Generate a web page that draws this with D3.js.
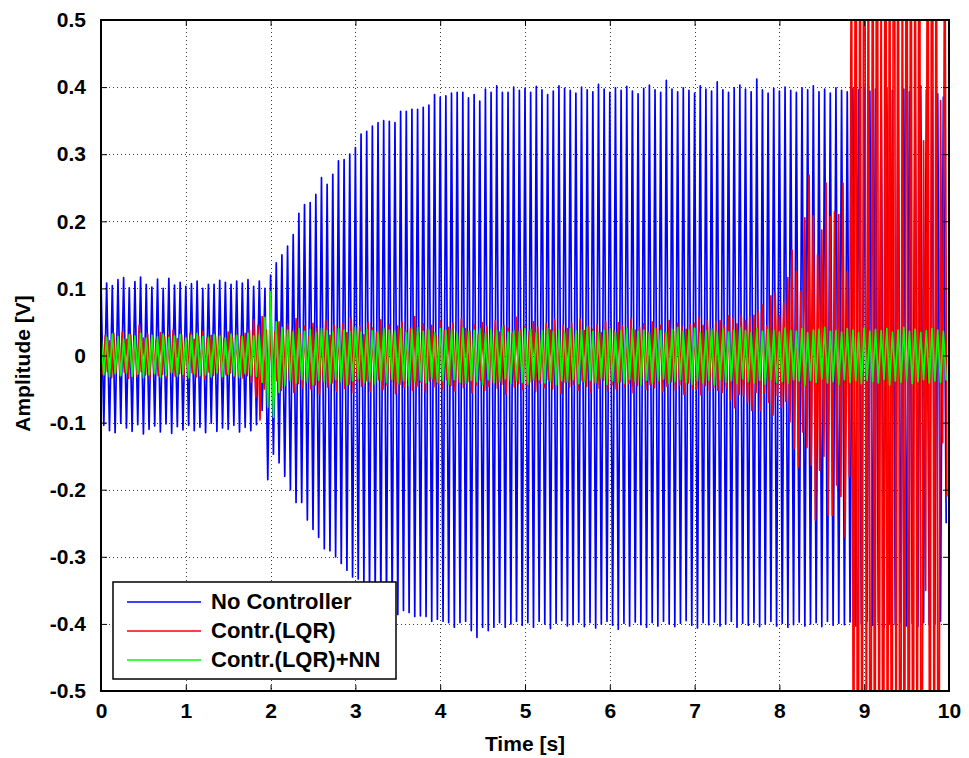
<!DOCTYPE html>
<html>
<head>
<meta charset="utf-8">
<script src="https://cdn.jsdelivr.net/npm/d3@7"></script>
<style>
  body { margin: 0; background: #fff; }
  svg text { font-family: "Liberation Sans", Arial, sans-serif; font-weight: bold; fill: #000; }
</style>
</head>
<body>
<svg id="chart" width="969" height="758"></svg>
<script>
// Axis ticks
const xTicks = [0, 1, 2, 3, 4, 5, 6, 7, 8, 9, 10];
const yTicks = [-0.5, -0.4, -0.3, -0.2, -0.1, 0, 0.1, 0.2, 0.3, 0.4, 0.5];
const yTickLabels = ["-0.5", "-0.4", "-0.3", "-0.2", "-0.1", "0", "0.1", "0.2", "0.3", "0.4", "0.5"];

// Series names
const seriesNames = ["No Controller", "Contr.(LQR)", "Contr.(LQR)+NN"];

// Oscillation periods [s] of the recorded responses
const periodOpenLoop = 10 / 150;   // uncontrolled and LQR+NN responses
const periodLqr = 0.05;            // LQR response

// Peak values per cycle [mV]: positive peak, then negative peak
const blueHighMv = [
  112,108,104,113,116,101,110,117,106,102,114,100,115,105,109,103,107,111,100,106,
  106,112,109,106,111,108,113,103,111,100,
  120,138,150,163,180,212,225,228,240,265,255,270,290,292,300,310,330,334,342,347,
  350,349,347,364,364,367,367,370,373,389,385,387,391,392,392,384,389,379,397,392,
  402,392,392,400,
  395,398,392,401,396,389,394,402,398,395,391,400,396,393,404,397,392,399,395,401,
  394,390,398,403,396,392,410,397,393,399,395,391,402,397,394,408,396,392,399,403,
  397,393,412,396,391,398,394,400,395,392,399,396,402,393,397,391,399,395,393,398,
  396,400,394,397,392,399,395,401,397,393,398,402,396,394,390,385
];
const blueLowMv = [
  -104,-112,-115,-101,-108,-113,-103,-117,-110,-105,-114,-102,-116,-106,-111,-104,-112,-107,-115,-101,
  -113,-108,-110,-104,-114,-107,-112,-103,-82,-185,
  -147,-160,-180,-200,-219,-219,-245,-259,-271,-288,-291,-300,-310,-320,-330,-333,-344,-357,-356,-367,
  -373,-376,-386,-380,-383,-389,-388,-389,-396,-393,-396,-398,-405,-398,-396,-410,-420,-405,-410,-405,
  -398,-405,-400,-396,
  -402,-398,-405,-396,-400,-407,-399,-395,-403,-401,-397,-404,-398,-406,-400,-396,-402,-408,-399,-403,
  -397,-401,-405,-398,-403,-396,-400,-404,-399,-395,-402,-406,-398,-401,-397,-403,-400,-396,-405,-399,
  -402,-398,-404,-400,-396,-403,-399,-405,-401,-397,-403,-400,-398,-404,-396,-402,-399,-401,-397,-403,
  -400,-396,-402,-398,-405,-399,-401,-397,-403,-399,-404,-398,-401,-400,-396,-250
];

const redHighMv = [
  25,30,22,33,28,35,24,31,27,45,26,32,29,23,34,28,30,38,25,31,
  27,33,24,29,36,26,30,28,32,25,35,27,31,29,33,38,
  53,45,58,38,
  42,35,50,31,46,38,55,33,44,29,48,40,36,52,30,45,39,47,34,56,
  37,43,31,49,41,35,53,38,46,32,44,50,36,40,58,33,47,39,45,30,
  51,37,42,48,34,55,40,36,46,31,49,43,38,52,35,45,41,33,57,39,
  44,36,50,42,30,47,38,53,35,45,40,48,32,54,37,43,39,46,34,51,
  41,36,49,44,31,55,38,42,47,35,50,40,45,33,52,37,48,43,39,46,
  48,56,45,52,38,50,52,44,59,55,47,60,52,58,
  60,65,75,44,89,93,60,78,116,157,125,95,205,269,208,150,187,257,207,214,
  210,257,125,
  700,1200,950,1400,800,1100,1300,650,1250,900,1500,1000,750,1350,1150,850,1200,320,1000,1400,
  900,380,700
];
const redLowMv = [
  -28,-24,-33,-26,-30,-25,-34,-27,-31,-24,-29,-35,-26,-30,-28,-33,-25,-31,-27,-34,
  -29,-26,-32,-28,-35,-25,-30,-27,-33,-29,-26,-31,-28,-34,-30,-40,
  -62,-96,-50,-45,
  -45,-38,-52,-40,-36,-55,-42,-48,-35,-50,-44,-58,-39,-47,-41,-53,-37,-49,-43,-56,
  -40,-46,-38,-54,-42,-36,-51,-45,-39,-57,-43,-48,-37,-52,-46,-40,-55,-38,-47,-42,
  -50,-36,-45,-53,-41,-48,-39,-56,-44,-37,-52,-46,-40,-49,-43,-58,-38,-47,-42,-51,
  -45,-39,-54,-41,-48,-36,-50,-44,-57,-40,-47,-43,-52,-38,-46,-55,-41,-49,-37,-53,
  -44,-50,-39,-47,-42,-56,-45,-38,-51,-43,-48,-40,-54,-46,-39,-52,-44,-58,-41,-50,
  -50,-59,-45,-53,-48,-52,-55,-47,-66,-78,-58,-60,-70,-82,
  -55,-82,-55,-70,-89,-60,-77,-68,-99,-138,-166,-114,-137,-163,-245,-171,-150,-238,-238,-193,
  -210,-270,-180,
  -900,-1300,-1000,-700,-1400,-1100,-850,-1250,-950,-1200,-750,-1350,-1000,-1300,-1150,-800,-1250,-350,-1100,-900,
  -1200,-130,-210
];

const greenHighMv = [
  30,27,32,28,25,31,29,33,26,30,28,32,27,29,31,26,30,33,28,27,
  31,29,26,32,30,28,33,29,31,57,
  95,50,42,38,35,40,36,39,34,41,37,35,40,38,36,42,35,39,37,34,
  41,38,36,40,35,39,42,36,38,34,40,37,39,35,41,36,38,40,34,39,
  37,42,35,38,36,40,39,34,37,41,36,38,35,40,37,39,42,36,34,38,
  40,35,37,41,39,36,38,34,40,37,35,39,42,36,38,41,34,37,40,36,
  39,35,38,42,37,34,40,36,39,38,35,41,37,36,40,34,38,39,42,36,
  37,35,40,38,34,41,36,39,37,40,35,38,42,36,39,34,37,40,38,36
];
const greenLowMv = [
  -29,-32,-27,-30,-26,-31,-28,-33,-29,-27,-32,-30,-26,-31,-28,-33,-27,-30,-29,-32,
  -26,-31,-28,-30,-33,-27,-29,-31,-40,-77,
  -92,-55,-45,-38,-41,-36,-40,-43,-37,-39,-42,-36,-40,-44,-38,-35,-41,-39,-43,-37,
  -40,-36,-42,-38,-45,-39,-37,-41,-35,-40,-38,-43,-36,-40,-42,-37,-39,-44,-36,-41,
  -39,-35,-42,-38,-40,-43,-37,-36,-41,-39,-44,-38,-40,-36,-42,-39,-37,-41,-35,-43,
  -38,-40,-42,-36,-39,-44,-37,-41,-38,-35,-42,-39,-36,-40,-43,-38,-41,-37,-44,-36,
  -40,-38,-42,-35,-39,-41,-37,-43,-36,-40,-39,-42,-36,-38,-44,-37,-40,-35,-41,-39,
  -43,-36,-40,-38,-42,-37,-39,-41,-36,-44,-38,-40,-37,-42,-39,-36,-41,-38,-40,-37
];

const seriesColors = ["#0000ff", "#ff0000", "#00ff00"];

// Layout
const plot = { left: 101, right: 949, top: 20, bottom: 691 };

const svg = d3.select("#chart");
const x = d3.scaleLinear().domain([0, 10]).range([plot.left, plot.right]);
const y = d3.scaleLinear().domain([-0.5, 0.5]).range([plot.bottom, plot.top]);

// Turn per-cycle peaks into a zig-zag trace (peak at cycle start, trough half a period later)
function trace(high, low, period) {
  const pts = [];
  const n = Math.min(high.length, low.length);
  for (let i = 0; i < n; i++) {
    pts.push([i * period, high[i] / 1000]);
    pts.push([(i + 0.5) * period, low[i] / 1000]);
  }
  return pts;
}

const series = [
  trace(blueHighMv, blueLowMv, periodOpenLoop),
  trace(redHighMv, redLowMv, periodLqr),
  trace(greenHighMv, greenLowMv, periodOpenLoop)
];

// Grid (dotted)
const grid = svg.append("g").attr("stroke", "#000").attr("stroke-width", 1)
  .attr("stroke-dasharray", "1,3").attr("opacity", 0.75);
grid.selectAll(".gx").data(xTicks.slice(1, -1)).join("line")
  .attr("x1", d => Math.round(x(d)) + 0.5).attr("x2", d => Math.round(x(d)) + 0.5)
  .attr("y1", plot.top).attr("y2", plot.bottom);
grid.selectAll(".gy").data(yTicks.slice(1, -1)).join("line")
  .attr("y1", d => Math.round(y(d)) + 0.5).attr("y2", d => Math.round(y(d)) + 0.5)
  .attr("x1", plot.left).attr("x2", plot.right);

// Data traces, clipped to the axes box
svg.append("clipPath").attr("id", "clip").append("rect")
  .attr("x", plot.left).attr("y", plot.top)
  .attr("width", plot.right - plot.left).attr("height", plot.bottom - plot.top);

const line = d3.line().x(d => x(d[0])).y(d => y(d[1]));
svg.append("g").attr("clip-path", "url(#clip)")
  .selectAll("path").data(series).join("path")
  .attr("d", line)
  .attr("fill", "none")
  .attr("stroke", (d, i) => seriesColors[i])
  .attr("stroke-width", 1.7)
  .attr("stroke-linejoin", "round");

// Axes: ticks point inward on all four sides
const tickLen = 6;
const axB = svg.append("g").attr("transform", `translate(0,${plot.bottom})`)
  .call(d3.axisBottom(x).tickValues(xTicks).tickSizeInner(-tickLen).tickSizeOuter(0).tickPadding(12).tickFormat(d3.format("d")));
const axT = svg.append("g").attr("transform", `translate(0,${plot.top})`)
  .call(d3.axisTop(x).tickValues(xTicks).tickSizeInner(-tickLen).tickSizeOuter(0).tickFormat(""));
const axL = svg.append("g").attr("transform", `translate(${plot.left},0)`)
  .call(d3.axisLeft(y).tickValues(yTicks).tickSizeInner(-tickLen).tickSizeOuter(0).tickPadding(15)
    .tickFormat((d, i) => yTickLabels[i]));
const axR = svg.append("g").attr("transform", `translate(${plot.right},0)`)
  .call(d3.axisRight(y).tickValues(yTicks).tickSizeInner(-tickLen).tickSizeOuter(0).tickFormat(""));

[axB, axT, axL, axR].forEach(a => {
  a.select(".domain").remove();
  a.selectAll("line").attr("stroke", "#000").attr("stroke-width", 1);
});
axB.selectAll("text").style("font-size", "21px").attr("dy", "0.71em");
axL.selectAll("text").style("font-size", "21px");

// Axes box
svg.append("rect")
  .attr("x", plot.left).attr("y", plot.top)
  .attr("width", plot.right - plot.left).attr("height", plot.bottom - plot.top)
  .attr("fill", "none").attr("stroke", "#000").attr("stroke-width", 2);

// Axis titles
svg.append("text").attr("x", (plot.left + plot.right) / 2).attr("y", 751)
  .attr("text-anchor", "middle").style("font-size", "21px").text("Time [s]");
svg.append("text").attr("transform", `translate(30,${(plot.top + plot.bottom) / 2 + 8}) rotate(-90)`)
  .attr("text-anchor", "middle").style("font-size", "21px").text("Amplitude [V]");

// Legend
const lg = svg.append("g");
lg.append("rect").attr("x", 113).attr("y", 582).attr("width", 283).attr("height", 97)
  .attr("fill", "#fff").attr("stroke", "#000").attr("stroke-width", 1.5);
seriesNames.forEach((name, i) => {
  const yy = 602 + i * 29;
  lg.append("line").attr("x1", 127).attr("x2", 201).attr("y1", yy).attr("y2", yy)
    .attr("stroke", seriesColors[i]).attr("stroke-width", 1.3);
  lg.append("text").attr("x", 211).attr("y", yy + 7).style("font-size", "22px").text(name);
});
</script>
</body>
</html>
